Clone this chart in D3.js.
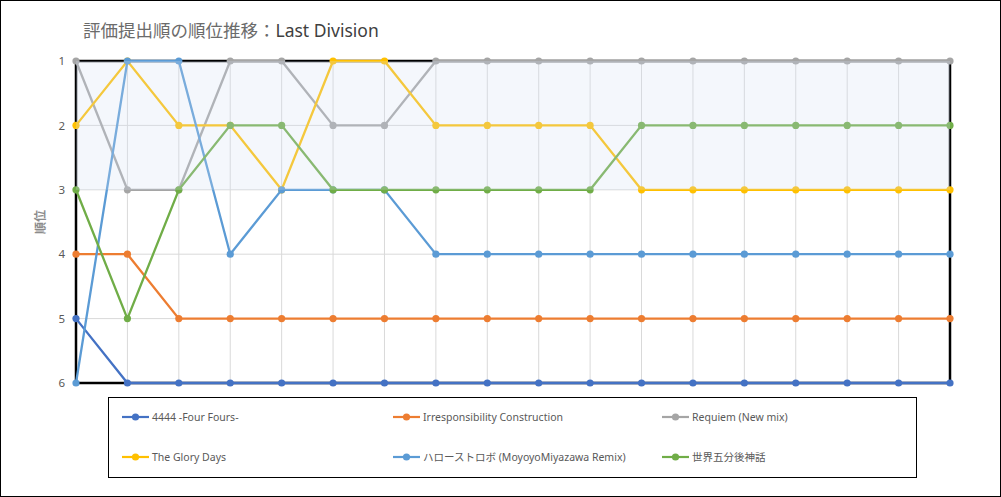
<!DOCTYPE html>
<html>
<head>
<meta charset="utf-8">
<script src="https://cdn.jsdelivr.net/npm/d3@7"></script>
<style>
  body { margin: 0; background: #fff; }
  svg { display: block; font-family: "Segoe UI", "Noto Sans", "Noto Sans CJK JP", sans-serif; }
</style>
</head>
<body>
<div id="chart"></div>
<script>
var steps = d3.range(18);
var rankTicks = [1, 2, 3, 4, 5, 6];

var fourFours = [5, 6, 6, 6, 6, 6, 6, 6, 6, 6, 6, 6, 6, 6, 6, 6, 6, 6];
var irresponsibility = [4, 4, 5, 5, 5, 5, 5, 5, 5, 5, 5, 5, 5, 5, 5, 5, 5, 5];
var requiem = [1, 3, 3, 1, 1, 2, 2, 1, 1, 1, 1, 1, 1, 1, 1, 1, 1, 1];
var gloryDays = [2, 1, 2, 2, 3, 1, 1, 2, 2, 2, 2, 3, 3, 3, 3, 3, 3, 3];
var helloStrobo = [6, 1, 1, 4, 3, 3, 3, 4, 4, 4, 4, 4, 4, 4, 4, 4, 4, 4];
var sekai = [3, 5, 3, 2, 2, 3, 3, 3, 3, 3, 3, 2, 2, 2, 2, 2, 2, 2];

var seriesNames = ['4444 -Four Fours-', 'Irresponsibility Construction', 'Requiem (New mix)',
    'The Glory Days', 'ハローストロボ (MoyoyoMiyazawa Remix)', '世界五分後神話'];
var seriesColors = ['#4472C4', '#ED7D31', '#A5A5A5', '#FFC000', '#5B9BD5', '#70AD47'];
var seriesValues = [fourFours, irresponsibility, requiem, gloryDays, helloStrobo, sekai];

var width = 1001, height = 497;
var svg = d3.select('#chart').append('svg')
    .attr('width', width)
    .attr('height', height);

svg.append('rect')
    .attr('x', 0.5).attr('y', 0.5)
    .attr('width', width - 1).attr('height', height - 1)
    .style('fill', 'white')
    .style('stroke', 'black');

var x = d3.scalePoint().domain(steps).range([76, 950]);
var y = d3.scaleLinear().domain([1, 6]).range([61, 383]);

// title
var title = svg.append('text')
    .attr('x', 83)
    .attr('y', 37)
    .style('font-size', '17.5px');
title.append('tspan')
    .style('fill', '#6b6b6b')
    .style('font-family', '"Noto Sans CJK JP"')
    .text('評価提出順の順位推移：');
title.append('tspan')
    .style('fill', '#404040')
    .text('Last Division');

// gridlines
svg.append('g').selectAll('line.h')
    .data(rankTicks)
    .enter().append('line')
    .attr('x1', x(0)).attr('x2', x(17))
    .attr('y1', function(d) { return y(d); })
    .attr('y2', function(d) { return y(d); })
    .style('stroke', '#D9D9D9');
svg.append('g').selectAll('line.v')
    .data(steps)
    .enter().append('line')
    .attr('x1', function(d) { return x(d); })
    .attr('x2', function(d) { return x(d); })
    .attr('y1', y(1)).attr('y2', y(6))
    .style('stroke', '#D9D9D9');

// plot border
svg.append('rect')
    .attr('x', x(0)).attr('y', y(1))
    .attr('width', x(17) - x(0)).attr('height', y(6) - y(1))
    .style('fill', 'none')
    .style('stroke', 'black')
    .style('stroke-width', 2.5);

// y axis
var yAxis = d3.axisLeft(y).tickValues(rankTicks).tickFormat(d3.format('d'))
    .tickSize(0).tickPadding(0);
var yg = svg.append('g')
    .attr('transform', 'translate(65,0)')
    .call(yAxis);
yg.select('.domain').remove();
yg.selectAll('text')
    .style('font-size', '11.5px')
    .style('fill', '#595959')
    .style('font-family', '"Segoe UI", "Noto Sans", sans-serif');

svg.append('text')
    .attr('transform', 'translate(45,' + ((y(1) + y(6)) / 2) + ') rotate(-90)')
    .attr('text-anchor', 'middle')
    .style('font-size', '12px')
    .style('font-weight', 'bold')
    .style('fill', '#8c8c8c')
    .style('font-family', '"Noto Sans CJK JP"')
    .text('順位');

// series
var line = d3.line()
    .x(function(d, i) { return x(i); })
    .y(function(d) { return y(d); });

seriesValues.forEach(function(values, s) {
    var g = svg.append('g');
    g.append('path')
        .datum(values)
        .attr('d', line)
        .style('fill', 'none')
        .style('stroke', seriesColors[s])
        .style('stroke-width', 2.3);
    g.selectAll('circle')
        .data(values)
        .enter().append('circle')
        .attr('cx', function(d, i) { return x(i); })
        .attr('cy', function(d) { return y(d); })
        .attr('r', 3.6)
        .style('fill', seriesColors[s]);
});

// top-3 band drawn over everything
svg.append('rect')
    .attr('x', x(0)).attr('y', y(1))
    .attr('width', x(17) - x(0)).attr('height', y(3) - y(1))
    .style('fill', 'rgb(211,223,243)')
    .style('opacity', 0.25);

// legend
svg.append('rect')
    .attr('x', 108.5).attr('y', 397.5)
    .attr('width', 808).attr('height', 80)
    .style('fill', 'none')
    .style('stroke', 'black');

var legendCols = [122, 393, 662];
var legendRows = [417, 457];
var legend = svg.append('g').selectAll('g')
    .data(seriesNames)
    .enter().append('g')
    .attr('transform', function(d, i) {
        return 'translate(' + legendCols[i % 3] + ',' + legendRows[Math.floor(i / 3)] + ')';
    });
legend.append('line')
    .attr('x1', 0).attr('x2', 27)
    .style('stroke', function(d, i) { return seriesColors[i]; })
    .style('stroke-width', 2.2);
legend.append('circle')
    .attr('cx', 13.5).attr('r', 3.6)
    .style('fill', function(d, i) { return seriesColors[i]; });
legend.append('text')
    .attr('x', 30)
    .attr('dy', '0.35em')
    .style('font-size', '10.5px')
    .style('fill', '#595959')
    .text(function(d) { return d; });
</script>
</body>
</html>
